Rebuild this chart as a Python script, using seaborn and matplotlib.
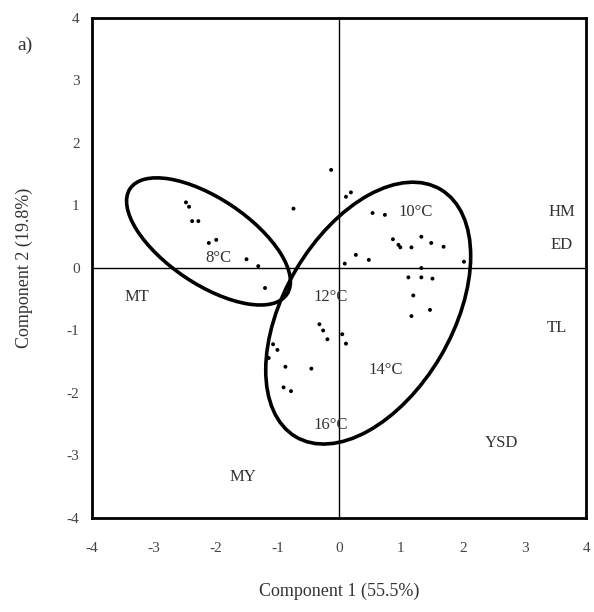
import numpy as np
import pandas as pd
import matplotlib
matplotlib.use("Agg")
import matplotlib.pyplot as plt
from matplotlib.patches import Ellipse
import seaborn as sns

# Score data (Component 1, Component 2)
pc1 = [-2.48, -2.43, -2.38, -2.28, -2.11, -1.99, -1.50, -1.31, -1.20, -0.74,
       -0.13, 0.11, 0.19, 0.54, 0.74, 0.87, 0.96, 0.99, 1.17, 1.33, 1.49, 1.69,
       2.02, 0.27, 0.48, 0.09, 1.33, 1.12, 1.33, 1.51, 1.20, 1.47, 1.17,
       -0.32, -0.26, -0.19, 0.05, 0.11, -1.07, -1.00, -1.14, -0.87, -0.45,
       -0.90, -0.78]
pc2 = [1.05, 0.98, 0.75, 0.75, 0.40, 0.45, 0.14, 0.03, -0.32, 0.95,
       1.57, 1.14, 1.21, 0.88, 0.85, 0.46, 0.37, 0.33, 0.33, 0.50, 0.40, 0.34,
       0.10, 0.21, 0.13, 0.07, 0.00, -0.15, -0.15, -0.17, -0.44, -0.67, -0.77,
       -0.90, -1.00, -1.14, -1.06, -1.21, -1.22, -1.31, -1.44, -1.58, -1.61,
       -1.91, -1.97]

# Confidence ellipses: center x, center y, width, height, angle
ell_cx = [-2.115, 0.47]
ell_cy = [0.425, -0.722]
ell_w = [3.05, 4.60]
ell_h = [1.37, 2.72]
ell_ang = [-33.5, 59.2]

# Labels
temp_labels = ["8°C", "10°C", "12°C", "14°C", "16°C"]
temp_x = [-1.96, 1.24, -0.14, 0.75, -0.14]
temp_y = [0.16, 0.90, -0.46, -1.63, -2.51]
var_labels = ["HM", "ED", "TL", "YSD", "MY", "MT"]
var_x = [3.60, 3.60, 3.53, 2.62, -1.55, -3.27]
var_y = [0.90, 0.37, -0.96, -2.80, -3.34, -0.46]

ticks = [-4, -3, -2, -1, 0, 1, 2, 3, 4]

sns.set_style("white")
plt.rcParams['font.family'] = ['Liberation Serif', 'DejaVu Serif']
plt.rcParams['axes.unicode_minus'] = False

fig = plt.figure(figsize=(5.94, 6.12), dpi=100)
ax = fig.add_axes([0.155, 0.1536, 0.832, 0.817])

df = pd.DataFrame({"pc1": pc1, "pc2": pc2})
sns.scatterplot(data=df, x="pc1", y="pc2", ax=ax, color="black", s=8,
                edgecolor="none", zorder=3)

ax.axhline(0, color="black", lw=1.0, zorder=1)
ax.axvline(0, color="black", lw=1.0, zorder=1)

for cx, cy, w, h, a in zip(ell_cx, ell_cy, ell_w, ell_h, ell_ang):
    ax.add_patch(Ellipse((cx, cy), w, h, angle=a, fill=False,
                         edgecolor="black", lw=2.6, zorder=2))

for t, x, y in zip(temp_labels, temp_x, temp_y):
    ax.text(x, y, t, ha="center", va="center", fontsize=12, color="#333333")
for t, x, y in zip(var_labels, var_x, var_y):
    ax.text(x, y, t, ha="center", va="center", fontsize=12, color="#333333")

ax.set_xlim(-4, 4)
ax.set_ylim(-4, 4)
ax.set_xticks(ticks)
ax.set_yticks(ticks)
ax.tick_params(direction="out", length=7, width=2, colors="black",
               labelcolor="#444444", labelsize=11)
ax.tick_params(axis="x", pad=10)
ax.tick_params(axis="y", pad=2)
for s in ax.spines.values():
    s.set_linewidth(2)
    s.set_color("black")

ax.set_xlabel("Component 1 (55.5%)", fontsize=13, color="#333333", labelpad=20)
ax.set_ylabel("Component 2 (19.8%)", fontsize=13, color="#333333", labelpad=24)

fig.text(0.03, 0.918, "a)", fontsize=14, color="#333333")

fig.savefig("out.png", dpi=100)
